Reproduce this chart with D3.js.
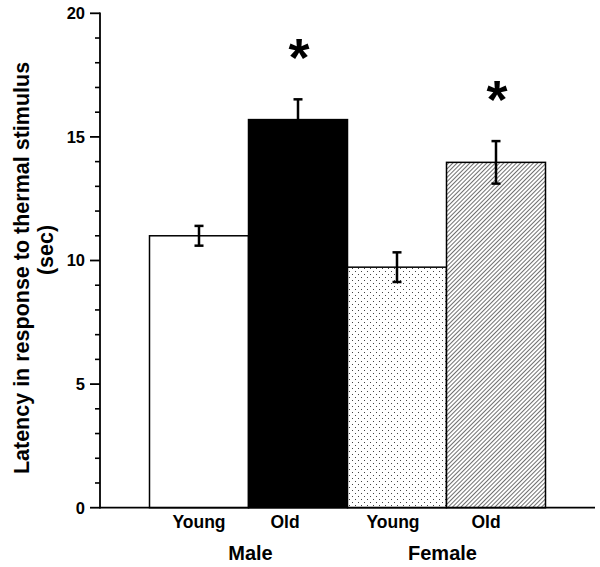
<!DOCTYPE html>
<html>
<head>
<meta charset="utf-8">
<script src="https://cdn.jsdelivr.net/npm/d3@7"></script>
<style>
  html, body { margin: 0; padding: 0; background: #fff; }
  text { font-family: "Liberation Sans", Arial, Helvetica, sans-serif; font-weight: bold; fill: #000; }
</style>
</head>
<body>
<svg id="chart" width="600" height="567"></svg>
<script>
// ---- data ----
const groups = ["Male", "Female"];
const categories = ["Young", "Old", "Young", "Old"];
const groupOf = [0, 0, 1, 1];
const means = [11.0, 15.7, 9.73, 13.97];
const errors = [0.4, 0.82, 0.6, 0.86];
const significant = [false, true, false, true];
const yMajorTicks = [0, 5, 10, 15, 20];
const yMinorTicks = d3.range(0, 21, 1);
const yTitle = ["Latency in response to thermal stimulus", "(sec)"];

// ---- layout ----
const svg = d3.select("#chart");
const x = d3.scaleLinear().domain([0, 5]).range([100, 595]);
const y = d3.scaleLinear().domain([0, 20]).range([507.7, 13.3]);
const bw = x(1) - x(0);

// patterns
const defs = svg.append("defs");
const dots = defs.append("pattern").attr("id", "dots").attr("patternUnits", "userSpaceOnUse")
  .attr("width", 6).attr("height", 6);
dots.append("rect").attr("width", 6).attr("height", 6).attr("fill", "#fff");
dots.append("rect").attr("x", 1).attr("y", 1).attr("width", 1).attr("height", 1).attr("fill", "#444");
dots.append("rect").attr("x", 4).attr("y", 4).attr("width", 1).attr("height", 1).attr("fill", "#444");

const hatch = defs.append("pattern").attr("id", "hatch").attr("patternUnits", "userSpaceOnUse")
  .attr("width", 3).attr("height", 3).attr("patternTransform", "rotate(45)");
hatch.append("rect").attr("width", 3).attr("height", 3).attr("fill", "#fff");
hatch.append("line").attr("x1", 0).attr("y1", 0).attr("x2", 0).attr("y2", 3)
  .attr("stroke", "#222").attr("stroke-width", 1.3);

const fills = ["#fff", "#000", "url(#dots)", "url(#hatch)"];

// bars
const idx = d3.range(means.length);
svg.append("g").selectAll("rect").data(idx).join("rect")
  .attr("x", i => x(i + 1) - bw / 2)
  .attr("y", i => y(means[i]))
  .attr("width", bw)
  .attr("height", i => y(0) - y(means[i]))
  .attr("fill", i => fills[i])
  .attr("stroke", "#000")
  .attr("stroke-width", 1.5);

// error bars
const eb = svg.append("g").attr("stroke", "#000").attr("stroke-width", 2.5);
idx.forEach(i => {
  const cx = x(i + 1);
  eb.append("line").attr("x1", cx).attr("x2", cx)
    .attr("y1", y(means[i] - errors[i])).attr("y2", y(means[i] + errors[i]));
  [means[i] - errors[i], means[i] + errors[i]].forEach(v => {
    eb.append("line").attr("x1", cx - 4.5).attr("x2", cx + 4.5)
      .attr("y1", y(v)).attr("y2", y(v));
  });
});

// asterisks
svg.append("g").selectAll("text").data(idx.filter(i => significant[i])).join("text")
  .attr("x", i => x(i + 1) + 1)
  .attr("y", i => y(means[i] + errors[i]) - 53 + 30)
  .attr("text-anchor", "middle")
  .attr("font-size", 54)
  .text("*");

// y axis
const ax = svg.append("g").attr("stroke", "#000");
ax.append("line").attr("x1", x(0)).attr("x2", x(0)).attr("y1", y(0) + 0.8).attr("y2", y(20) - 0.8).attr("stroke-width", 1.8);
ax.append("line").attr("x1", x(0)).attr("x2", x(5)).attr("y1", y(0)).attr("y2", y(0)).attr("stroke-width", 1.8);
yMinorTicks.filter(v => !yMajorTicks.includes(v)).forEach(v => {
  ax.append("line").attr("x1", x(0) - 5).attr("x2", x(0)).attr("y1", y(v)).attr("y2", y(v)).attr("stroke-width", 1.6);
});
yMajorTicks.forEach(v => {
  ax.append("line").attr("x1", x(0) - 10).attr("x2", x(0)).attr("y1", y(v)).attr("y2", y(v)).attr("stroke-width", 1.8);
});
svg.append("g").selectAll("text").data(yMajorTicks).join("text")
  .attr("x", x(0) - 15)
  .attr("y", v => y(v))
  .attr("dy", "0.36em")
  .attr("text-anchor", "end")
  .attr("font-size", 16.5)
  .text(v => v);

// category labels
const catOffset = [0, -13, -4, -10];
svg.append("g").selectAll("text").data(idx).join("text")
  .attr("x", i => x(i + 1) + catOffset[i])
  .attr("y", 528)
  .attr("text-anchor", "middle")
  .attr("font-size", 17.5)
  .text(i => categories[i]);

// group labels
svg.append("g").selectAll("text").data(groups).join("text")
  .attr("x", (g, gi) => {
    const members = idx.filter(i => groupOf[i] === gi);
    return (x(members[0] + 1) + x(members[members.length - 1] + 1)) / 2 + (gi === 0 ? 2 : -4);
  })
  .attr("y", 560)
  .attr("text-anchor", "middle")
  .attr("font-size", 20)
  .text(g => g);

// y title
const yt = svg.append("text").attr("transform", "rotate(-90)").attr("text-anchor", "middle").attr("font-size", 21.5);
yt.append("tspan").attr("x", -268).attr("y", 28.5).text(yTitle[0]);
yt.append("tspan").attr("x", -250).attr("y", 52.5).text(yTitle[1]);
</script>
</body>
</html>
